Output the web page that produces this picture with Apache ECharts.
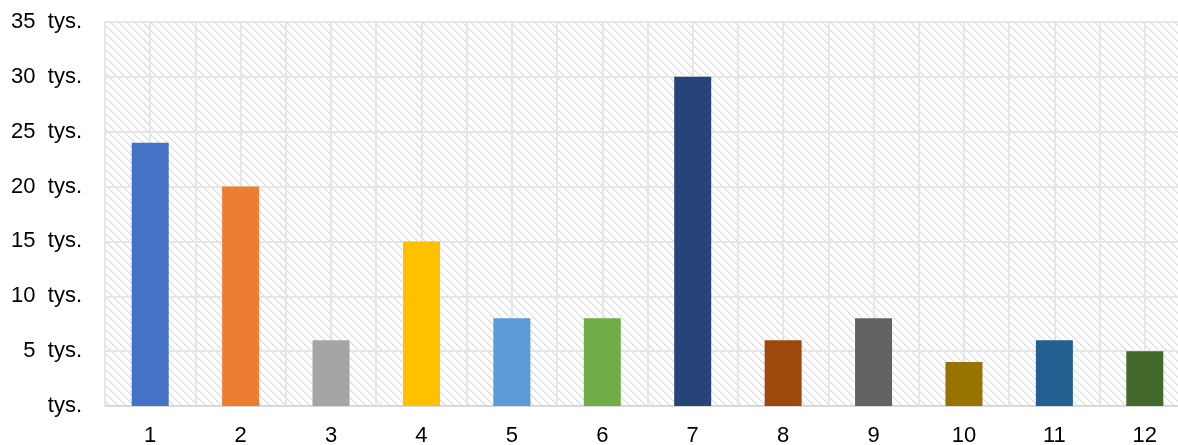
<!DOCTYPE html>
<html>
<head>
<meta charset="utf-8">
<script src="https://cdn.jsdelivr.net/npm/echarts@6/dist/echarts.min.js"></script>
<style>html,body{margin:0;padding:0;background:#fff;overflow:hidden;width:1178px;height:445px;}#c{width:1190px;height:445px;}</style>
</head>
<body>
<div id="c"></div>
<script>
const categories = ['1','2','3','4','5','6','7','8','9','10','11','12'];
const values = [24000, 20000, 6000, 15000, 8000, 8000, 30000, 6000, 8000, 4000, 6000, 5000];
const barColors = ['#4472C4','#ED7D31','#A5A5A5','#FFC000','#5B9BD5','#70AD47','#264478','#9E480E','#636363','#997300','#255E91','#43682B'];
const yTicks = [0, 5000, 10000, 15000, 20000, 25000, 30000, 35000];

// hatch tile
const tile = document.createElement('canvas');
tile.width = 8; tile.height = 8;
const tctx = tile.getContext('2d');
tctx.fillStyle = '#ffffff';
tctx.fillRect(0, 0, 8, 8);
for (let y = 0; y < 8; y++) {
  for (let x = 0; x < 8; x++) {
    const d = ((x - y) % 8 + 8) % 8;
    if (d === 0) { tctx.fillStyle = '#dadada'; tctx.fillRect(x, y, 1, 1); }
    else if (d === 1) { tctx.fillStyle = '#eeeeee'; tctx.fillRect(x, y, 1, 1); }
  }
}

const halfCats = [];
for (let i = 0; i < categories.length * 2; i++) halfCats.push('');

const font = 'Liberation Sans, Arial, sans-serif';
const chart = echarts.init(document.getElementById('c'), null, {renderer: 'canvas', width: 1190, height: 445});
chart.setOption({
  animation: false,
  backgroundColor: '#ffffff',
  grid: {
    left: 105, top: 22, bottom: 39, right: 0,
    containLabel: false,
    outerBoundsMode: 'none',
    show: true,
    backgroundColor: {image: tile, repeat: 'repeat'},
    borderWidth: 0
  },
  xAxis: [{
    type: 'category',
    data: categories,
    axisLine: {show: true, lineStyle: {color: '#d9d9d9', width: 2}},
    axisTick: {show: false},
    splitLine: {show: false},
    axisLabel: {color: '#000', fontSize: 22, fontFamily: font, margin: 19}
  }, {
    type: 'category',
    data: halfCats,
    position: 'bottom',
    axisLine: {show: false},
    axisTick: {show: false},
    axisLabel: {show: false},
    splitLine: {show: true, lineStyle: {color: '#e6e6e6', width: 2}}
  }],
  yAxis: {
    type: 'value',
    min: 0, max: 35000, interval: 5000,
    axisLine: {show: false},
    axisTick: {show: false},
    splitLine: {show: true, lineStyle: {color: '#e6e6e6', width: 2}},
    axisLabel: {
      color: '#000', fontSize: 22, fontFamily: font, margin: 23,
      formatter: function (v) { return v === 0 ? 'tys.' : (v / 1000) + '  tys.'; }
    }
  },
  series: [{
    type: 'bar',
    xAxisIndex: 0,
    data: values.map((v, i) => ({value: v, itemStyle: {color: barColors[i]}})),
    barWidth: 37
  }]
});
</script>
</body>
</html>
